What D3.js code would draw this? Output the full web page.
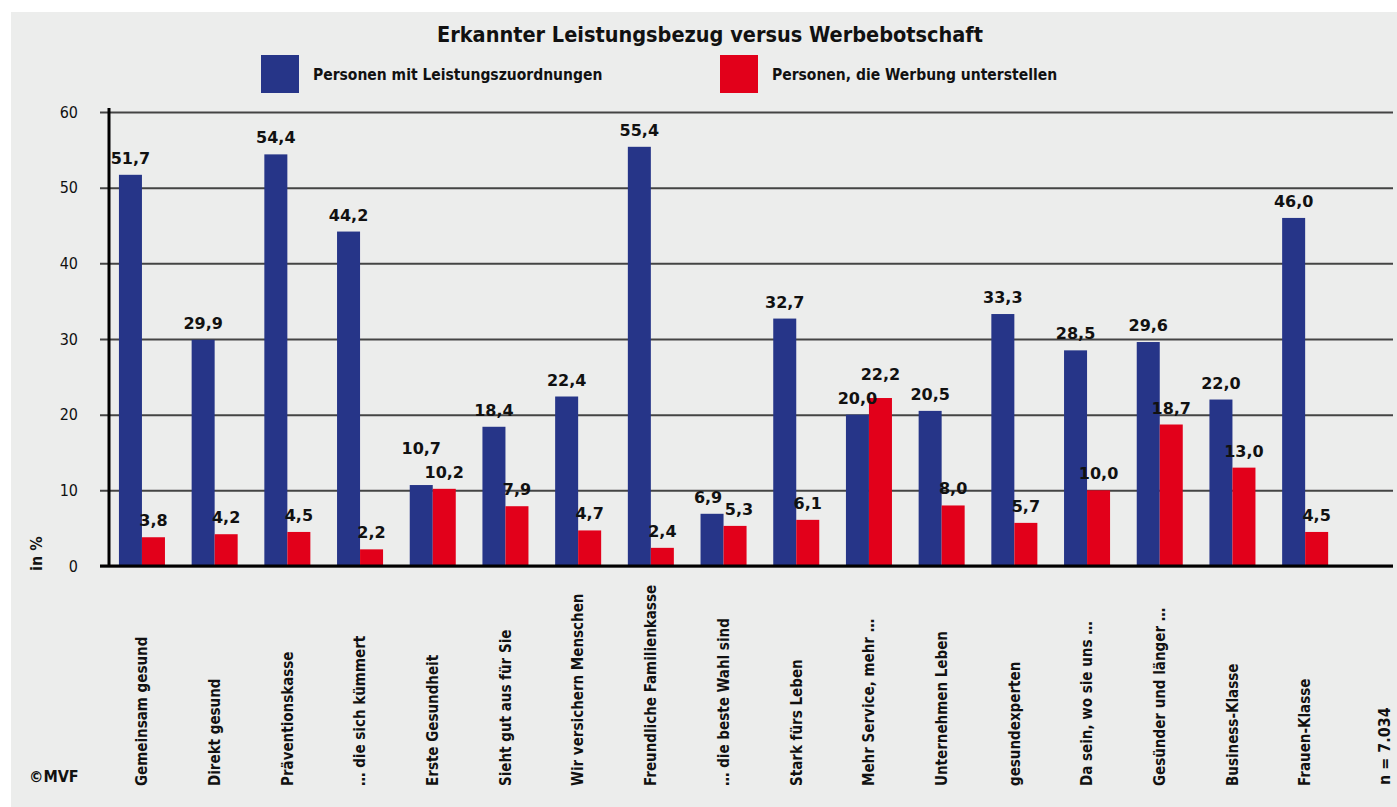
<!DOCTYPE html>
<html>
<head>
<meta charset="utf-8">
<script src="https://cdn.jsdelivr.net/npm/d3@7"></script>
<style>
  body { margin: 0; background: #fff; }
  svg text { font-family: "DejaVu Sans Condensed", "DejaVu Sans", sans-serif; font-stretch: condensed; fill: #111; }
  svg text.val { font-family: "DejaVu Sans", sans-serif; font-stretch: normal; }
</style>
</head>
<body>
<div id="chart"></div>
<script>
// Chart data
const CATEGORIES = ["Gemeinsam gesund", "Direkt gesund", "Präventionskasse", "… die sich kümmert",
  "Erste Gesundheit", "Sieht gut aus für Sie", "Wir versichern Menschen", "Freundliche Familienkasse",
  "… die beste Wahl sind", "Stark fürs Leben", "Mehr Service, mehr …", "Unternehmen Leben",
  "gesundexperten", "Da sein, wo sie uns …", "Gesünder und länger …", "Business-Klasse", "Frauen-Klasse"];
const LEISTUNG = [51.7, 29.9, 54.4, 44.2, 10.7, 18.4, 22.4, 55.4, 6.9, 32.7, 20.0, 20.5, 33.3, 28.5, 29.6, 22.0, 46.0];
const WERBUNG = [3.8, 4.2, 4.5, 2.2, 10.2, 7.9, 4.7, 2.4, 5.3, 6.1, 22.2, 8.0, 5.7, 10.0, 18.7, 13.0, 4.5];
const SERIES = ["Personen mit Leistungszuordnungen", "Personen, die Werbung unterstellen"];
const Y_TICKS = [0, 10, 20, 30, 40, 50, 60];
const TITLE = "Erkannter Leistungsbezug versus Werbebotschaft";

const COLORS = ["#263588", "#e2001a"];
const FRAME_WIDTH = 1397;
const FRAME_HEIGHT = 807;

const svg = d3.select("#chart").append("svg")
    .attr("width", FRAME_WIDTH)
    .attr("height", FRAME_HEIGHT);

// Grey panel
svg.append("rect")
    .attr("x", 11).attr("y", 12)
    .attr("width", FRAME_WIDTH - 11).attr("height", FRAME_HEIGHT - 12)
    .attr("fill", "#ecedec");

// Scales
const Y_SCALE = d3.scaleLinear().domain([0, 60]).range([566, 112]);
const X_SCALE = d3.scaleBand().domain(CATEGORIES)
    .range([105.6, 1341.5]).paddingInner(0.367).paddingOuter(0.1835);
const X_SUB = d3.scaleBand().domain([0, 1]).range([0, X_SCALE.bandwidth()]);

// Title
svg.append("text")
    .attr("x", 710).attr("y", 42)
    .attr("text-anchor", "middle")
    .attr("font-size", "21.5px").attr("font-weight", "bold")
    .text(TITLE);

// Legend
const LEGEND_X = [261, 720];
SERIES.forEach((s, i) => {
  svg.append("rect")
      .attr("x", LEGEND_X[i]).attr("y", 55)
      .attr("width", 38).attr("height", 38)
      .attr("fill", COLORS[i]);
  svg.append("text")
      .attr("x", LEGEND_X[i] + 52).attr("y", 80)
      .attr("font-size", "15.5px").attr("font-weight", "bold")
      .text(s);
});

// Gridlines + tick labels
const yAxis = svg.append("g")
    .attr("transform", "translate(100,0)")
    .call(d3.axisLeft(Y_SCALE).tickValues(Y_TICKS).tickSize(-1293).tickSizeOuter(0).tickPadding(22));
yAxis.select(".domain").remove();
yAxis.selectAll(".tick line").attr("stroke", "#444").attr("stroke-width", 2);
yAxis.selectAll(".tick text")
    .attr("font-size", "16px")
    .attr("font-family", "\"DejaVu Sans Condensed\", \"DejaVu Sans\", sans-serif")
    .attr("fill", "#111");

// Bars
const groups = svg.selectAll(".grp")
    .data(CATEGORIES)
    .enter()
    .append("g")
      .attr("class", "grp")
      .attr("transform", (d) => "translate(" + X_SCALE(d) + ",0)");

groups.selectAll("rect")
    .data((d, i) => [LEISTUNG[i], WERBUNG[i]])
    .enter()
    .append("rect")
      .attr("x", (d, j) => X_SUB(j))
      .attr("y", (d) => Y_SCALE(d))
      .attr("width", X_SUB.bandwidth())
      .attr("height", (d) => Y_SCALE(0) - Y_SCALE(d))
      .attr("fill", (d, j) => COLORS[j]);

// Value labels
const fmt = (v) => v.toFixed(1).replace(".", ",");
groups.each(function(d, i) {
  const g = d3.select(this);
  const vals = [LEISTUNG[i], WERBUNG[i]];
  const labels = vals.map((v, j) => g.append("text")
      .attr("class", "val")
      .attr("x", X_SUB(j) + X_SUB.bandwidth() / 2)
      .attr("y", Y_SCALE(v) - 11)
      .attr("text-anchor", "middle")
      .attr("font-size", "16px").attr("font-weight", "bold")
      .text(fmt(v)));
  // Keep the two labels of a group apart when the bars are of similar height
  const ys = vals.map((v) => Y_SCALE(v) - 11);
  if (Math.abs(ys[0] - ys[1]) < 18) {
    const w = labels.map((t) => t.node().getComputedTextLength());
    const overlap = (w[0] + w[1]) / 2 - X_SUB.bandwidth();
    if (overlap <= 6) {
      const n = Math.ceil(overlap / 2) + 1;
      labels[0].attr("x", X_SUB(0) + X_SUB.bandwidth() / 2 - n);
      labels[1].attr("x", X_SUB(1) + X_SUB.bandwidth() / 2 + n);
    } else {
      const hi = vals[0] >= vals[1] ? 0 : 1;
      labels[hi].attr("y", ys[1 - hi] - 24);
    }
  }
});

// Axis lines
svg.append("line")
    .attr("x1", 109).attr("x2", 109)
    .attr("y1", 108).attr("y2", 567)
    .attr("stroke", "#000").attr("stroke-width", 3);
svg.append("line")
    .attr("x1", 100).attr("x2", 1393)
    .attr("y1", Y_SCALE(0)).attr("y2", Y_SCALE(0))
    .attr("stroke", "#000").attr("stroke-width", 3);

// Category labels
groups.append("text")
    .attr("transform", "translate(" + (X_SCALE.bandwidth() / 2) + ",786) rotate(-90)")
    .attr("dy", "0.35em")
    .attr("font-size", "15px").attr("font-weight", "bold")
    .text((d) => d);

// Axis title and notes
svg.append("text")
    .attr("transform", "translate(36,571) rotate(-90)")
    .attr("dy", "0.35em")
    .attr("font-size", "16px").attr("font-weight", "bold")
    .text("in %");
svg.append("text")
    .attr("x", 29).attr("y", 782)
    .attr("font-size", "16px").attr("font-weight", "bold")
    .text("©MVF");
svg.append("text")
    .attr("transform", "translate(1384,785) rotate(-90)")
    .attr("dy", "0.35em")
    .attr("font-size", "16px").attr("font-weight", "bold")
    .text("n = 7.034");
</script>
</body>
</html>
